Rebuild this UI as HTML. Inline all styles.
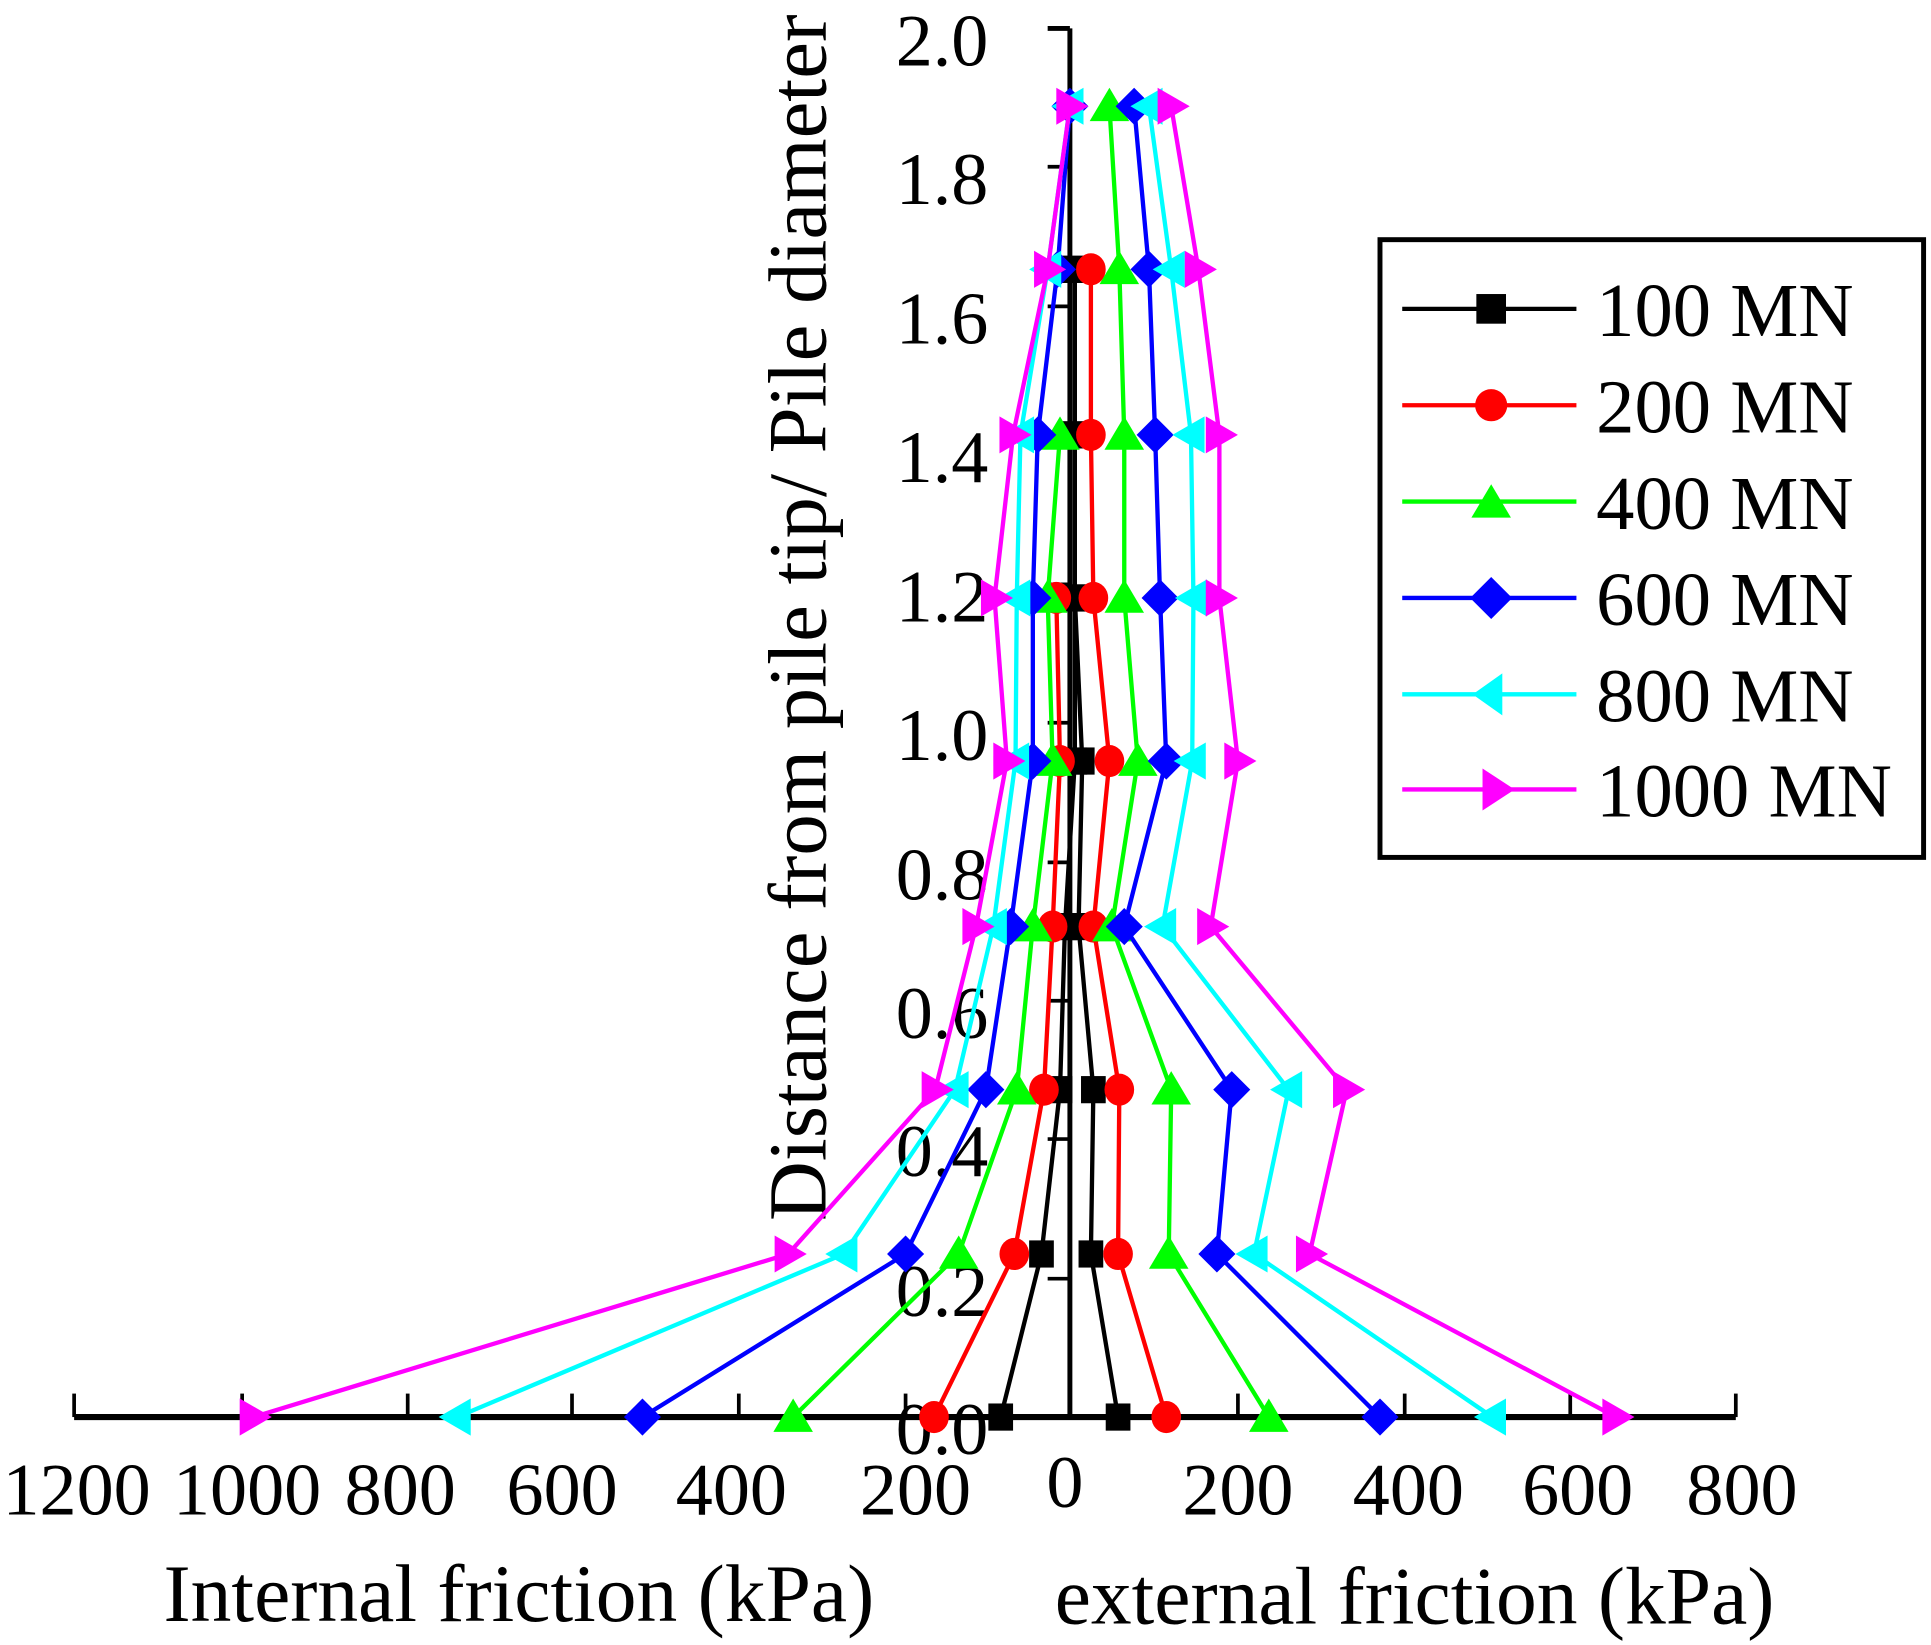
<!DOCTYPE html>
<html><head><meta charset="utf-8"><style>html,body{margin:0;padding:0;background:#fff}svg{display:block}</style></head>
<body>
<svg width="1931" height="1645" viewBox="0 0 1563 1331.5" preserveAspectRatio="none" xmlns="http://www.w3.org/2000/svg" font-family="'Liberation Serif', serif">
<defs>
<marker id="mk" markerUnits="userSpaceOnUse" markerWidth="30" markerHeight="30" refX="15" refY="15" viewBox="0 0 30 30"><rect x="5" y="4" width="20" height="22" fill="#000"/></marker>
<marker id="mr" markerUnits="userSpaceOnUse" markerWidth="30" markerHeight="30" refX="15" refY="15" viewBox="0 0 30 30"><ellipse cx="15" cy="15" rx="12" ry="13" fill="#f00"/></marker>
<marker id="mg" markerUnits="userSpaceOnUse" markerWidth="34" markerHeight="34" refX="17" refY="17" viewBox="0 0 34 34"><polygon points="17,2 33,29 1,29" fill="#0f0"/></marker>
<marker id="mb" markerUnits="userSpaceOnUse" markerWidth="34" markerHeight="34" refX="17" refY="17" viewBox="0 0 34 34"><polygon points="17,2 32,17 17,32 2,17" fill="#00f"/></marker>
<marker id="mc" markerUnits="userSpaceOnUse" markerWidth="34" markerHeight="34" refX="17" refY="17" viewBox="0 0 34 34"><polygon points="2,17 28,2 28,32" fill="#0ff"/></marker>
<marker id="mm" markerUnits="userSpaceOnUse" markerWidth="34" markerHeight="34" refX="17" refY="17" viewBox="0 0 34 34"><polygon points="32,17 6,2 6,32" fill="#f0f"/></marker>
</defs>

<g stroke="#000" fill="none">
<line x1="60" y1="1147" x2="1405" y2="1147" stroke-width="5"/>
<line x1="866" y1="23" x2="866" y2="1147" stroke-width="4"/>
<line x1="848" y1="23" x2="866" y2="23" stroke-width="4"/>
<g stroke-width="3">
<line x1="60" y1="1128" x2="60" y2="1147"/><line x1="196" y1="1128" x2="196" y2="1147"/><line x1="330" y1="1128" x2="330" y2="1147"/><line x1="463" y1="1128" x2="463" y2="1147"/><line x1="598" y1="1128" x2="598" y2="1147"/><line x1="733" y1="1128" x2="733" y2="1147"/><line x1="1002" y1="1128" x2="1002" y2="1147"/><line x1="1137" y1="1128" x2="1137" y2="1147"/><line x1="1271" y1="1128" x2="1271" y2="1147"/><line x1="1405" y1="1128" x2="1405" y2="1147"/>
<line x1="848" y1="135" x2="866" y2="135"/><line x1="848" y1="248" x2="866" y2="248"/><line x1="848" y1="360" x2="866" y2="360"/><line x1="848" y1="473" x2="866" y2="473"/><line x1="848" y1="585" x2="866" y2="585"/><line x1="848" y1="698" x2="866" y2="698"/><line x1="848" y1="810" x2="866" y2="810"/><line x1="848" y1="922" x2="866" y2="922"/><line x1="848" y1="1035" x2="866" y2="1035"/>
</g></g>

<g font-size="60" text-anchor="end" fill="#000">
<text x="800" y="53">2.0</text><text x="800" y="165">1.8</text><text x="800" y="278">1.6</text><text x="800" y="390">1.4</text><text x="800" y="503">1.2</text><text x="800" y="615">1.0</text><text x="800" y="728">0.8</text><text x="800" y="840">0.6</text><text x="800" y="952">0.4</text><text x="800" y="1065">0.2</text><text x="800" y="1177">0.0</text>
</g>
<g font-size="60" text-anchor="middle" fill="#000">
<text x="62" y="1226">1200</text><text x="200" y="1226">1000</text><text x="324" y="1226">800</text><text x="455" y="1226">600</text><text x="592" y="1226">400</text><text x="741" y="1226">200</text><text x="862" y="1220">0</text><text x="1002" y="1226">200</text><text x="1140" y="1226">400</text><text x="1277" y="1226">600</text><text x="1410" y="1226">800</text>
</g>
<text x="420" y="1312" font-size="66" text-anchor="middle">Internal friction (kPa)</text>
<text x="1145" y="1314" font-size="66" text-anchor="middle">external friction (kPa)</text>
<text transform="translate(668,500) rotate(-90)" font-size="67" text-anchor="middle">Distance from pile tip/ Pile diameter</text>

<g fill="none" stroke-width="3.5">
<polyline stroke="#000" marker-start="url(#mk)" marker-mid="url(#mk)" marker-end="url(#mk)" points="810,1147 843,1015 858,882 862,750 870,616 870,484 870,352 870,218"/>
<polyline stroke="#000" marker-start="url(#mk)" marker-mid="url(#mk)" marker-end="url(#mk)" points="905,1147 883,1015 885,882 873,750 876,616 870,484 870,352 870,218"/>
<polyline stroke="#f00" marker-start="url(#mr)" marker-mid="url(#mr)" marker-end="url(#mr)" points="756,1147 821,1015 845,882 852,750 858,616 855,484"/>
<polyline stroke="#f00" marker-start="url(#mr)" marker-mid="url(#mr)" marker-end="url(#mr)" points="944,1147 905,1015 906,882 885,750 898,616 885,484 883,352 883,218"/>
<polyline stroke="#0f0" marker-start="url(#mg)" marker-mid="url(#mg)" marker-end="url(#mg)" points="642,1147 776,1015 823,882 836,750 852,616 848,484 858,352"/>
<polyline stroke="#0f0" marker-start="url(#mg)" marker-mid="url(#mg)" marker-end="url(#mg)" points="1027,1147 946,1015 948,882 900,750 921,616 910,484 910,352 906,218 898,86"/>
<polyline stroke="#00f" marker-start="url(#mb)" marker-mid="url(#mb)" marker-end="url(#mb)" points="520,1147 733,1015 798,882 818,750 836,616 836,484 840,352 856,218 866,86"/>
<polyline stroke="#00f" marker-start="url(#mb)" marker-mid="url(#mb)" marker-end="url(#mb)" points="1117,1147 985,1015 997,882 910,750 944,616 939,484 935,352 930,218 918,86"/>
<polyline stroke="#0ff" marker-start="url(#mc)" marker-mid="url(#mc)" marker-end="url(#mc)" points="370,1147 683,1015 773,882 804,750 822,616 823,484 826,352 848,218 866,86"/>
<polyline stroke="#0ff" marker-start="url(#mc)" marker-mid="url(#mc)" marker-end="url(#mc)" points="1208,1147 1015,1015 1043,882 941,750 965,616 966,484 964,352 948,218 930,86"/>
<polyline stroke="#f0f" marker-start="url(#mm)" marker-mid="url(#mm)" marker-end="url(#mm)" points="205,1147 638,1015 757,882 790,750 815,616 805,484 820,352 848,218 866,86"/>
<polyline stroke="#f0f" marker-start="url(#mm)" marker-mid="url(#mm)" marker-end="url(#mm)" points="1308,1147 1060,1015 1090,882 980,750 1002,616 987,484 987,352 970,218 948,86"/>
</g>

<rect x="1117" y="194" width="440" height="500" fill="#fff" stroke="#000" stroke-width="4"/>
<g fill="none" stroke-width="3.5">
<line x1="1135" y1="250" x2="1276" y2="250" stroke="#000"/>
<line x1="1135" y1="328" x2="1276" y2="328" stroke="#f00"/>
<line x1="1135" y1="406" x2="1276" y2="406" stroke="#0f0"/>
<line x1="1135" y1="484" x2="1276" y2="484" stroke="#00f"/>
<line x1="1135" y1="562" x2="1276" y2="562" stroke="#0ff"/>
<line x1="1135" y1="639" x2="1276" y2="639" stroke="#f0f"/>
</g>
<rect x="1195" y="238" width="24" height="24" fill="#000"/>
<ellipse cx="1207" cy="328" rx="13" ry="13" fill="#f00"/>
<polygon points="1207,392 1223,419 1191,419" fill="#0f0"/>
<polygon points="1207,467 1224,484 1207,501 1190,484" fill="#00f"/>
<polygon points="1192,562 1216,545 1216,579" fill="#0ff"/>
<polygon points="1226,639 1200,622 1200,656" fill="#f0f"/>
<g font-size="62" fill="#000">
<text x="1292" y="272">100 MN</text><text x="1292" y="350">200 MN</text><text x="1292" y="428">400 MN</text><text x="1292" y="506">600 MN</text><text x="1292" y="584">800 MN</text><text x="1292" y="661">1000 MN</text>
</g>
</svg>
</body></html>
